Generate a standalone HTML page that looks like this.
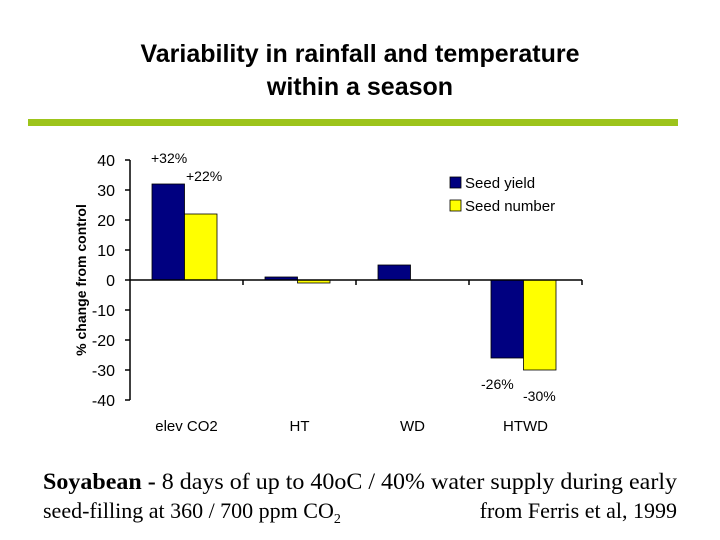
<!DOCTYPE html>
<html><head><meta charset="utf-8"><style>
body{margin:0;background:#fff;}
svg{display:block;}
</style></head><body>
<svg id="c" width="720" height="540" xmlns="http://www.w3.org/2000/svg">
<text x="360" y="62" text-anchor="middle" font-family="Liberation Sans, sans-serif" font-weight="bold" font-size="25">Variability in rainfall and temperature</text>
<text x="360" y="95" text-anchor="middle" font-family="Liberation Sans, sans-serif" font-weight="bold" font-size="25">within a season</text>
<rect x="28" y="119" width="650" height="7" fill="#9dc41b"/>
<g id="plot"></g>
<text x="86" y="280" transform="rotate(-90 86 280)" text-anchor="middle" font-family="Liberation Sans, sans-serif" font-weight="bold" font-size="14">% change from control</text>
<g>
<rect x="450" y="177" width="11" height="11" fill="#000080" stroke="#000" stroke-width="0.8"/>
<text x="465" y="188" font-family="Liberation Sans, sans-serif" font-size="15">Seed yield</text>
<rect x="450" y="200" width="11" height="11" fill="#ffff00" stroke="#000" stroke-width="0.8"/>
<text x="465" y="211" font-family="Liberation Sans, sans-serif" font-size="15">Seed number</text>
</g>
<text x="151" y="163" font-family="Liberation Sans, sans-serif" font-size="14">+32%</text>
<text x="186" y="181" font-family="Liberation Sans, sans-serif" font-size="14">+22%</text>
<text x="481" y="389" font-family="Liberation Sans, sans-serif" font-size="14">-26%</text>
<text x="523" y="401" font-family="Liberation Sans, sans-serif" font-size="14">-30%</text>
<text x="43" y="489" font-family="Liberation Serif, serif" font-size="23" textLength="634" lengthAdjust="spacingAndGlyphs"><tspan font-weight="bold">Soyabean - </tspan>8 days of up to 40oC / 40% water supply during early</text>
<text x="43" y="518" font-family="Liberation Serif, serif" font-size="22">seed-filling at 360 / 700 ppm CO<tspan font-size="14" dy="5">2</tspan></text>
<text x="677" y="518" text-anchor="end" font-family="Liberation Serif, serif" font-size="22">from Ferris et al, 1999</text>
</svg>
<script>
const categories = ["elev CO2","HT","WD","HTWD"];
const seedYield = [32, 1, 5, -26];
const seedNumber = [22, -1, 0, -30];
const yTicks = [40,30,20,10,0,-10,-20,-30,-40];

const NS="http://www.w3.org/2000/svg";
const g=document.getElementById('plot');
const x0=130,x1=582,yTop=160,yBot=400,yMax=40,yMin=-40;
const cw=(x1-x0)/categories.length;
function yS(v){return yTop+(yMax-v)/(yMax-yMin)*(yBot-yTop);}
function xC(i){return x0+i*cw;}
function mk(t,a){const e=document.createElementNS(NS,t);for(const k in a)e.setAttribute(k,a[k]);g.appendChild(e);return e;}
const bw=32.5,off=22;
categories.forEach((c,i)=>{
  [[seedYield,'#000080',0,'seed-yield'],[seedNumber,'#ffff00',1,'seed-number']].forEach(([arr,col,k,nm])=>{
    const v=arr[i];if(v===0)return;
    const y=Math.min(yS(v),yS(0)),h=Math.abs(yS(v)-yS(0));
    const r=mk('rect',{x:xC(i)+off+k*bw,y:y,width:bw,height:h,fill:col,stroke:'#000','stroke-width':0.8});
    
    
  });
  const t=mk('text',{x:xC(i)+cw/2,y:431,'text-anchor':'middle','font-family':'Liberation Sans, sans-serif','font-size':15});
  t.textContent=c;
  
  
  const tk=mk('line',{x1:xC(i+1),x2:xC(i+1),y1:yS(0),y2:yS(0)+5,stroke:'#000','stroke-width':1.5});
  
  
});
yTicks.forEach(v=>{
  const l=mk('line',{x1:x0-5,x2:x0,y1:yS(v),y2:yS(v),stroke:'#000','stroke-width':1.5});
  
  
  const t=mk('text',{x:x0-15,y:yS(v)+6,'text-anchor':'end','font-family':'Liberation Sans, sans-serif','font-size':16});
  t.textContent=v;
  
  
});
const ya=mk('line',{x1:x0,x2:x0,y1:yTop,y2:yBot,stroke:'#000','stroke-width':1.5});


const xa=mk('line',{x1:x0,x2:x1,y1:yS(0),y2:yS(0),stroke:'#000','stroke-width':1.5});


</script>
</body></html>
